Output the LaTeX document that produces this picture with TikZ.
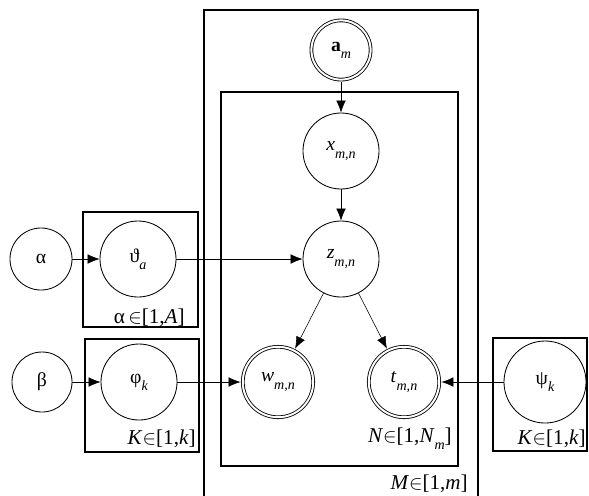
\documentclass[tikz,border=0pt]{standalone}
\usepackage{fontspec}
\setmainfont{Liberation Serif}
\usetikzlibrary{arrows.meta}
\newcommand{\lsub}[1]{\raisebox{-0.8ex}{\fontsize{10}{10}\selectfont\itshape #1}}

\begin{document}
\begin{tikzpicture}[
    x=0.025cm, y=-0.025cm,
    >={Latex[length=3mm,width=2.4mm]},
    every node/.style={font=\fontsize{14}{16}\selectfont},
    var/.style={draw, circle, inner sep=0pt, line width=0.6pt},
    obs/.style={var, double, double distance=1.4pt},
    plate/.style={draw, line width=0.9pt},
    lbl/.style={anchor=base east, inner sep=0pt, font=\fontsize{15}{17}\selectfont}
]
\useasboundingbox (0,0) rectangle (589,495);
\clip (0,0) rectangle (589,495);

% plates
\draw[plate] (204,10) rectangle (478,510);
\draw[plate] (221,92) rectangle (458,466);
\draw[plate] (83,212) rectangle (198,327);
\draw[plate] (85,339) rectangle (199,452);
\draw[plate] (493,338) rectangle (587,451);

% variables
\node[obs, minimum size=1.48cm] (am) at (341,50) {\textbf{a}\lsub{m}};
\node[var, minimum size=1.9cm] (x) at (341,151) {\textit{x}\lsub{m,n}};
\node[var, minimum size=1.9cm] (z) at (341,259) {\textit{z}\lsub{m,n}};
\node[obs, minimum size=1.76cm] (w) at (278,382) {\textit{w}\lsub{m,n}};
\node[obs, minimum size=1.76cm] (t) at (404,382) {\textit{t}\lsub{m,n}};
\node[var, minimum size=1.55cm] (alpha) at (41,259) {α};
\node[var, minimum size=1.9cm] (theta) at (138,259) {ϑ\lsub{a}};
\node[var, minimum size=1.5cm] (beta) at (42,382) {β};
\node[var, minimum size=1.9cm] (phi) at (139,382) {φ\lsub{k}};
\node[var, minimum size=2.05cm] (psi) at (545,382) {ψ\lsub{k}};

% plate labels
\node[lbl] (lblM) at (468,489) {\textit{M}$\in$[1,\textit{m}]};
\node[lbl] (lblN) at (452,442) {\textit{N}$\in$[1,\textit{N}\lsub{m}]};
\node[lbl] (lblA) at (185,323) {α\,$\in$[1,\textit{A}]};
\node[lbl] (lblK) at (196,444) {\textit{K}$\in$[1,\textit{k}]};
\node[lbl] (lblKK) at (586,444) {\textit{K}$\in$[1,\textit{k}]};

% edges
\draw[->] (alpha) -- (theta);
\draw[->] (theta) -- (z);
\draw[->] (beta) -- (phi);
\draw[->, shorten >=1.3pt] (phi) -- (w);
\draw[->, shorten >=1.3pt] (psi) -- (t);
\draw[->, shorten <=1.3pt] (am) -- (x);
\draw[->] (x) -- (z);
\draw[->, shorten >=1.3pt] (z) -- (w);
\draw[->, shorten >=1.3pt] (z) -- (t);
\end{tikzpicture}
\end{document}
